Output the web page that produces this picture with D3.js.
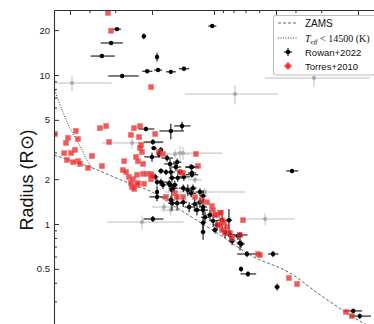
<!DOCTYPE html>
<html>
<head>
<meta charset="utf-8">
<script src="https://cdn.jsdelivr.net/npm/d3@7"></script>
<style>
  html, body { margin: 0; padding: 0; background: #fff; }
  svg { display: block; }
</style>
</head>
<body>
<svg id="chart" width="374" height="324"></svg>
<script>
// Effective temperature (K) and radius (R_sun) of eclipsing-binary components.

// Rowan+2022 — well-measured systems (black)
const rowanTeff = [29600, 21900, 31600, 35000, 18900, 27900, 21100, 18700, 16200, 14000,
  10200, 14300, 21400, 16200, 19800, 19600, 18100, 20000, 18500, 16900,
  18100, 17100, 16200, 16350, 15300, 19300, 18100, 16500, 15500, 16000,
  18900, 16000, 15100, 14600, 12900, 12800, 16000, 15000, 14000, 12800,
  18900, 17700, 16350, 15800, 14100, 13400, 12650, 11700, 11300, 12900,
  16200, 15100, 14100, 13200, 12400, 11700, 11300, 12100, 11300, 11060,
  10460, 10100, 9670, 9140, 8460, 8840, 8360, 8170, 11300, 11300,
  7650, 7480, 19800, 18900, 4180, 12800, 7390, 7480, 6920, 5170,
  7390, 6840, 4940, 2110, 1960, 9890];
const rowanRadius = [20.3, 18.2, 16.4, 13.4, 13.2, 9.85, 10.6, 10.8, 10.5, 11.0,
  21.3, 4.55, 4.34, 4.21, 3.55, 3.23, 3.14, 2.82, 2.95, 2.77,
  2.27, 2.23, 2.23, 2.53, 2.41, 2.07, 1.91, 1.88, 1.83, 1.69,
  1.52, 1.38, 2.60, 2.23, 2.41, 2.20, 2.04, 2.04, 2.07, 2.14,
  1.91, 1.83, 1.83, 1.74, 1.74, 1.69, 1.74, 1.64, 1.54, 1.61,
  1.45, 1.38, 1.40, 1.30, 1.36, 1.40, 1.30, 1.24, 1.24, 1.11,
  1.15, 1.05, 0.985, 1.06, 1.06, 0.884, 0.844, 0.769, 1.02, 0.884,
  0.831, 0.746, 1.08, 1.64, 2.27, 2.41, 0.734, 0.844, 0.629, 0.629,
  0.499, 0.462, 0.378, 0.261, 0.241, 0.912];
const rowanTeffErr = [1300, 300, 3900, 4700, 400, 4700, 1200, 850, 900, 800,
  460, 1300, 1900, 2200, 2200, 600, 500, 1800, 500, 1100,
  600, 500, 700, 1100, 850, 700, 1200, 600, 500, 600,
  1700, 700, 700, 500, 900, 600, 600, 800, 900, 900,
  500, 700, 600, 800, 700, 600, 500, 500, 400, 700,
  700, 800, 600, 700, 500, 500, 500, 500, 600, 500,
  400, 400, 400, 500, 300, 300, 400, 300, 300, 300,
  400, 300, 2200, 300, 280, 900, 300, 600, 800, 300,
  150, 600, 150, 200, 230, 300];
const rowanRadiusErr = [0.3, 0.8, 0.5, 0.4, 0.9, 0.3, 0.3, 0.3, 0.3, 0.3,
  0.3, 0.3, 0.15, 0.5, 0.15, 0.1, 0.15, 0.2, 0.15, 0.15,
  0.1, 0.1, 0.15, 0.2, 0.15, 0.1, 0.1, 0.1, 0.12, 0.15,
  0.1, 0.15, 0.15, 0.1, 0.12, 0.1, 0.12, 0.12, 0.12, 0.1,
  0.1, 0.12, 0.1, 0.1, 0.1, 0.15, 0.1, 0.1, 0.15, 0.1,
  0.1, 0.15, 0.1, 0.1, 0.15, 0.1, 0.15, 0.1, 0.1, 0.1,
  0.1, 0.1, 0.08, 0.17, 0.2, 0.08, 0.06, 0.05, 0.1, 0.1,
  0.05, 0.08, 0.05, 0.15, 0.06, 0.08, 0.04, 0.04, 0.03, 0.03,
  0.02, 0.02, 0.02, 0.01, 0.01, 0.05];

// Rowan+2022 — poorly constrained systems (grey), asymmetric Teff errors
const greyTeff = [48900, 7910, 3270, 25000, 15460, 14140, 22360, 11060, 5650, 17500, 16200, 14620, 12370];
const greyRadius = [8.83, 7.45, 9.54, 3.50, 2.95, 2.99, 1.03, 1.64, 1.08, 1.30, 1.24, 2.99, 1.98];
const greyTeffPlus = [11000, 5920, 2380, 10000, 2800, 1300, 10600, 6200, 1670, 2500, 1900, 500, 1000];
const greyTeffMinus = [17600, 3020, 1520, 7100, 2400, 5000, 8300, 4000, 1610, 2200, 1700, 500, 900];
const greyRadiusErr = [1.0, 1.1, 1.2, 0.3, 0.2, 0.3, 0.11, 0.1, 0.1, 0.1, 0.1, 0.35, 0.1];

// Torres+2010 (red)
const torresTeff = [32700, 31600, 20200, 59100, 35760, 33400, 24460, 22870, 46800, 51100,
  45700, 52300, 47300, 53400, 49400, 51700, 48300, 45700, 44700, 40900,
  39100, 35000, 32300, 25300, 27300, 23900, 23400, 22100, 27700, 26700,
  23100, 22600, 22870, 22360, 25900, 24700, 23650, 25300, 25000, 23650,
  23400, 21100, 20200, 20200, 21850, 24400, 19300, 17700, 18500, 12240,
  11960, 14620, 14140, 15460, 15130, 14140, 12370, 11440, 10810, 10230,
  10110, 9250, 9670, 9140, 8940, 8650, 9350, 7230, 8360, 7480,
  17100, 20000, 6110, 5980, 4330, 3950, 2290, 2140, 8170, 8840,
  9140, 9560, 9350, 9890, 22100];
const torresRadius = [26.1, 19.8, 8.30, 4.02, 4.40, 4.54, 4.40, 4.54, 4.21, 3.78,
  3.72, 3.50, 3.14, 2.99, 2.99, 2.69, 2.60, 2.64, 2.53, 2.38,
  2.86, 2.45, 3.55, 3.96, 2.64, 2.82, 2.64, 2.53, 2.30, 2.23,
  3.83, 3.39, 3.23, 3.04, 2.07, 2.00, 2.14, 1.88, 1.77, 1.83,
  1.88, 2.17, 2.17, 2.00, 1.86, 1.72, 4.02, 2.95, 3.04, 2.95,
  2.45, 2.23, 2.20, 1.61, 1.52, 1.52, 1.52, 1.45, 1.40, 1.32,
  1.24, 1.19, 1.15, 1.06, 1.02, 0.955, 0.985, 1.06, 0.870, 0.844,
  1.52, 2.10, 0.629, 0.619, 0.434, 0.396, 0.257, 0.241, 0.806, 0.870,
  0.912, 0.985, 1.19, 1.15, 2.17];

// Zero-age main sequence and its hot (dotted) branch
const zamsTeff = [59800, 39100, 26700, 19500, 16400, 12400, 9350, 6680, 4280, 2960, 1890, 1670];
const zamsRadius = [2.90, 2.38, 1.91, 1.61, 1.38, 1.08, 0.844, 0.619, 0.469, 0.324, 0.217, 0.197];
const hotTeff = [59800, 53500, 48900, 44200, 41400, 39100];
const hotRadius = [8.2, 5.39, 4.14, 3.24, 2.69, 2.38];

// Axis ticks
const teffMajorTicks = [50000, 20000, 10000, 5000, 2000];
const teffMinorTicks = [40000, 30000, 9000, 8000, 7000, 6000, 4000, 3000];
const radiusMajorTicks = [0.2, 0.5, 1, 2, 5, 10, 20];
const radiusMinorTicks = [0.3, 0.4, 0.6, 0.7, 0.8, 0.9, 3, 4, 6, 7, 8, 9];

const svg = d3.select("#chart");
const plotLeft = 54, plotTop = 10, plotRight = 420, plotBottom = 373;

const x = d3.scaleLog().domain([59800, 1000]).range([plotLeft, plotRight]);
const y = d3.scaleLog().domain([27.3, 0.1]).range([plotTop, plotBottom]);

svg.append("defs").append("clipPath").attr("id", "plot")
  .append("rect").attr("x", plotLeft).attr("y", plotTop)
  .attr("width", plotRight - plotLeft).attr("height", plotBottom - plotTop);

const plot = svg.append("g").attr("clip-path", "url(#plot)");

// ZAMS curves
const line = d3.line().x(d => x(d[0])).y(d => y(d[1])).curve(d3.curveMonotoneX);
plot.append("path")
  .attr("d", line(zamsTeff.map((t, i) => [t, zamsRadius[i]])))
  .attr("fill", "none").attr("stroke", "#555").attr("stroke-width", 0.9)
  .attr("stroke-dasharray", "3,2");
plot.append("path")
  .attr("d", line(hotTeff.map((t, i) => [t, hotRadius[i]])))
  .attr("fill", "none").attr("stroke", "#222").attr("stroke-width", 0.9)
  .attr("stroke-dasharray", "1,1.5");

// grey systems
const grey = greyTeff.map((t, i) => ({t, r: greyRadius[i], tp: greyTeffPlus[i], tm: greyTeffMinus[i], re: greyRadiusErr[i]}));
const gG = plot.append("g").attr("stroke", "#bdbdbd").attr("stroke-width", 1);
grey.forEach(d => {
  gG.append("line").attr("x1", x(d.t + d.tp)).attr("x2", x(d.t - d.tm))
    .attr("y1", y(d.r)).attr("y2", y(d.r));
  gG.append("line").attr("x1", x(d.t)).attr("x2", x(d.t))
    .attr("y1", y(d.r + d.re)).attr("y2", y(d.r - d.re));
});
plot.append("g").selectAll("circle").data(grey).join("circle")
  .attr("cx", d => x(d.t)).attr("cy", d => y(d.r)).attr("r", 2)
  .attr("fill", "#a8a8a8");

// Rowan+2022 black systems
const rowan = rowanTeff.map((t, i) => ({t, r: rowanRadius[i], te: rowanTeffErr[i], re: rowanRadiusErr[i]}));
const gB = plot.append("g").attr("stroke", "#111").attr("stroke-width", 1.1);
rowan.forEach(d => {
  gB.append("line").attr("x1", x(d.t + d.te)).attr("x2", x(d.t - d.te))
    .attr("y1", y(d.r)).attr("y2", y(d.r));
  gB.append("line").attr("x1", x(d.t)).attr("x2", x(d.t))
    .attr("y1", y(d.r + d.re)).attr("y2", y(d.r - d.re));
});
plot.append("g").selectAll("circle").data(rowan).join("circle")
  .attr("cx", d => x(d.t)).attr("cy", d => y(d.r)).attr("r", 2.2)
  .attr("fill", "#000");

// Torres+2010 red squares
const torres = torresTeff.map((t, i) => ({t, r: torresRadius[i]}));
plot.append("g").selectAll("rect").data(torres).join("rect")
  .attr("x", d => x(d.t) - 2.5).attr("y", d => y(d.r) - 2.5)
  .attr("width", 5).attr("height", 5)
  .attr("fill", "#ee2222").attr("fill-opacity", 0.75)
  .attr("stroke", "#f06060").attr("stroke-opacity", 0.6).attr("stroke-width", 0.8);

// Axes: ticks point inward
const axisColor = "#333";
const yAxis = svg.append("g").attr("transform", `translate(${plotLeft},0)`)
  .call(d3.axisLeft(y).tickValues(radiusMajorTicks).tickSize(-5).tickSizeOuter(0)
    .tickPadding(4).tickFormat(d3.format("")));
yAxis.append("g").selectAll("line").data(radiusMinorTicks).join("line")
  .attr("x1", 0).attr("x2", 3).attr("y1", d => y(d)).attr("y2", d => y(d))
  .attr("stroke", axisColor);
yAxis.selectAll("text").attr("font-family", "Liberation Sans, Arial, sans-serif")
  .attr("font-size", 9.5).attr("fill", "#222");

const xAxis = svg.append("g").attr("transform", `translate(0,${plotTop})`)
  .call(d3.axisTop(x).tickValues(teffMajorTicks).tickSize(-5).tickSizeOuter(0).tickFormat(""));
xAxis.append("g").selectAll("line").data(teffMinorTicks).join("line")
  .attr("x1", d => x(d)).attr("x2", d => x(d)).attr("y1", 0).attr("y2", 3)
  .attr("stroke", axisColor);
[yAxis, xAxis].forEach(a => {
  a.select(".domain").attr("stroke", axisColor).attr("stroke-width", 1.1);
  a.selectAll(".tick line").attr("stroke", axisColor);
});

// Y label
svg.append("text")
  .attr("transform", "translate(33,180) rotate(-90)")
  .attr("text-anchor", "middle")
  .attr("font-family", "Liberation Sans, Arial, sans-serif")
  .attr("font-size", 18).attr("fill", "#111")
  .text("Radius (R⊙)");

// Legend
const lg = svg.append("g");
lg.append("rect").attr("x", 273.5).attr("y", 15.5).attr("width", 120).attr("height", 59.5)
  .attr("rx", 2).attr("fill", "#fff").attr("stroke", "#bbb").attr("stroke-width", 1);
const rows = [23, 38, 52, 66];
const sans = "Liberation Sans, Arial, sans-serif";
lg.append("line").attr("x1", 278).attr("x2", 297).attr("y1", rows[0]).attr("y2", rows[0])
  .attr("stroke", "#555").attr("stroke-width", 0.9).attr("stroke-dasharray", "3,2");
lg.append("text").attr("x", 305).attr("y", rows[0] + 3.5).attr("font-family", sans)
  .attr("font-size", 10).attr("fill", "#111").text("ZAMS");
lg.append("line").attr("x1", 278).attr("x2", 297).attr("y1", rows[1]).attr("y2", rows[1])
  .attr("stroke", "#222").attr("stroke-width", 0.9).attr("stroke-dasharray", "1,1.5");
const math = lg.append("text").attr("x", 305).attr("y", rows[1] + 3.5)
  .attr("font-family", "Liberation Serif, DejaVu Serif, serif").attr("font-size", 10).attr("fill", "#111");
math.append("tspan").attr("font-style", "italic").text("T");
math.append("tspan").attr("font-style", "italic").attr("font-size", 7).attr("dy", 2).text("eff");
math.append("tspan").attr("dy", -2).text(" < 14500 (K)");
[["#111", "Rowan+2022", "#000"], ["#e22", "Torres+2010", "#ee2222"]].forEach((s, i) => {
  const cy = rows[2 + i], cx = 288;
  lg.append("line").attr("x1", cx - 4).attr("x2", cx + 4).attr("y1", cy).attr("y2", cy).attr("stroke", s[0]).attr("stroke-width", 1.1);
  lg.append("line").attr("x1", cx).attr("x2", cx).attr("y1", cy - 4).attr("y2", cy + 4).attr("stroke", s[0]).attr("stroke-width", 1.1);
  if (i === 0) lg.append("circle").attr("cx", cx).attr("cy", cy).attr("r", 2.3).attr("fill", s[2]);
  else lg.append("rect").attr("x", cx - 2.5).attr("y", cy - 2.5).attr("width", 5).attr("height", 5).attr("fill", s[2]).attr("fill-opacity", 0.8);
  lg.append("text").attr("x", 305).attr("y", cy + 3.5).attr("font-family", sans)
    .attr("font-size", 9.5).attr("fill", "#111").text(s[1]);
});
</script>
</body>
</html>
